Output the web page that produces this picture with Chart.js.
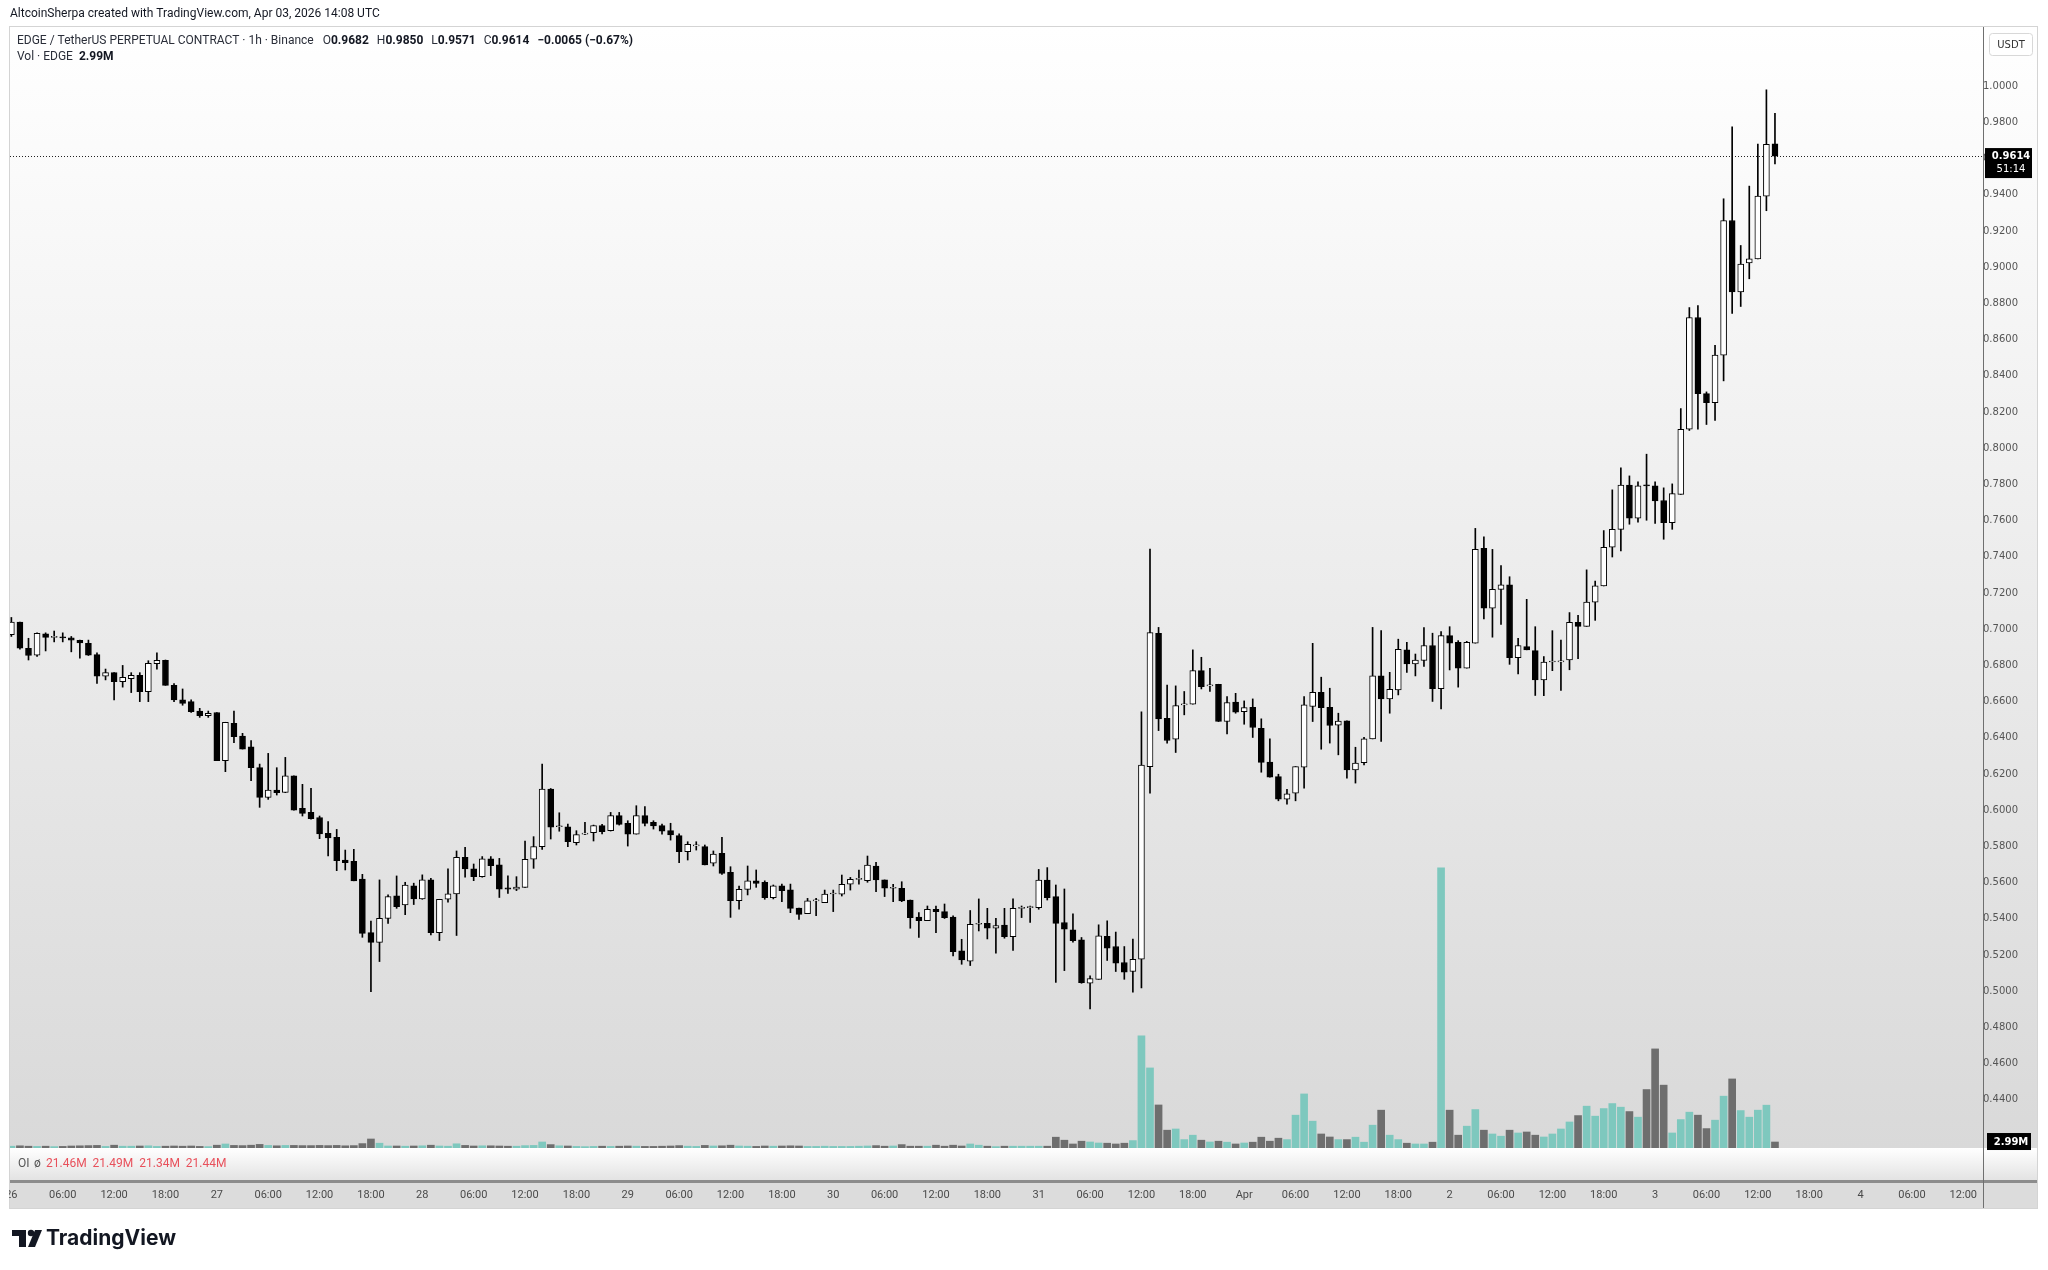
<!DOCTYPE html>
<html>
<head>
<meta charset="utf-8">
<title>EDGE / TetherUS PERPETUAL CONTRACT · 1h</title>
<script src="https://cdn.jsdelivr.net/npm/chart.js@4.4.1/dist/chart.umd.min.js"></script>
<style>
  html, body { margin: 0; padding: 0; background: #fff; }
  #wrap { width: 2048px; height: 1270px; }
</style>
</head>
<body>
<div id="wrap"><canvas id="chart" width="2048" height="1270"></canvas></div>
<script>
/* global Chart */

// hourly candles, index 0 = Mar 26 00:00 UTC, last = Apr 3 14:00
const opens = [
  0.697, 0.704, 0.6895, 0.6857, 0.6975, 0.6955, 0.6957, 0.6952, 0.6938, 0.6922,
  0.686, 0.6741, 0.676, 0.671, 0.6727, 0.6745, 0.6655, 0.681, 0.6828, 0.669,
  0.661, 0.660, 0.6548, 0.6522, 0.654, 0.6274, 0.648, 0.641, 0.635, 0.6235,
  0.6071, 0.6112, 0.6099, 0.619, 0.601, 0.5988, 0.596, 0.5873, 0.585, 0.5725,
  0.5718, 0.562, 0.5324, 0.527, 0.5403, 0.5527, 0.5477, 0.5582, 0.551, 0.5615,
  0.5324, 0.5508, 0.5538, 0.574, 0.5676, 0.5633, 0.5731, 0.5698, 0.5571, 0.5564,
  0.5574, 0.5729, 0.5799, 0.6117, 0.5909, 0.5909, 0.5821, 0.5868, 0.5876, 0.5915,
  0.5887, 0.597, 0.5927, 0.5868, 0.597, 0.5933, 0.5915, 0.5887, 0.586, 0.5771,
  0.5803, 0.5799, 0.5707, 0.5762, 0.5657, 0.55, 0.5563, 0.561, 0.5602, 0.5517,
  0.5582, 0.556, 0.546, 0.5429, 0.5499, 0.549, 0.5537, 0.5536, 0.5591, 0.5618,
  0.5611, 0.5692, 0.5615, 0.5569, 0.5569, 0.5504, 0.541, 0.539, 0.5453, 0.544,
  0.541, 0.5223, 0.5166, 0.537, 0.5375, 0.5348, 0.5366, 0.5302, 0.5458, 0.5462,
  0.5462, 0.5614, 0.5523, 0.538, 0.5339, 0.5284, 0.5044, 0.5066, 0.5303, 0.5247,
  0.5159, 0.5109, 0.5177, 0.6241, 0.6977, 0.6508, 0.6392, 0.6582, 0.6586, 0.6771,
  0.6687, 0.6696, 0.649, 0.6597, 0.6545, 0.6569, 0.6453, 0.6266, 0.6186, 0.6061,
  0.6094, 0.6238, 0.6573, 0.6652, 0.6569, 0.647, 0.6494, 0.6223, 0.6263, 0.6394,
  0.6742, 0.6615, 0.6665, 0.6886, 0.6808, 0.6827, 0.691, 0.6671, 0.6965, 0.6928,
  0.6785, 0.6923, 0.7447, 0.7116, 0.722, 0.7245, 0.6843, 0.6904, 0.6882, 0.672,
  0.6819, 0.6819, 0.683, 0.7038, 0.7016, 0.715, 0.7239, 0.7453, 0.7552, 0.7797,
  0.7613, 0.7794, 0.7792, 0.7711, 0.7589, 0.7745, 0.8105, 0.8722, 0.8302, 0.8252,
  0.8514, 0.9258, 0.8864, 0.9023, 0.9046, 0.9393, 0.9682,
];

const highs = [
  0.7065, 0.704, 0.695, 0.698, 0.698, 0.699, 0.698, 0.696, 0.694, 0.694,
  0.687, 0.678, 0.676, 0.680, 0.676, 0.676, 0.6826, 0.687, 0.683, 0.670,
  0.667, 0.661, 0.6563, 0.6548, 0.654, 0.6486, 0.6548, 0.6425, 0.6385, 0.6255,
  0.6314, 0.6235, 0.6292, 0.619, 0.6143, 0.6121, 0.5968, 0.5937, 0.5894, 0.578,
  0.5784, 0.5646, 0.5388, 0.5615, 0.5532, 0.5637, 0.5602, 0.5597, 0.5643, 0.5624,
  0.5508, 0.5676, 0.5775, 0.5795, 0.5703, 0.5744, 0.5744, 0.5734, 0.5637, 0.5633,
  0.583, 0.5854, 0.6255, 0.612, 0.5986, 0.5924, 0.5887, 0.5933, 0.5918, 0.5922,
  0.5988, 0.5988, 0.5942, 0.6025, 0.602, 0.5942, 0.5924, 0.5928, 0.5869, 0.5826,
  0.5826, 0.5808, 0.5775, 0.585, 0.5688, 0.5581, 0.5692, 0.567, 0.561, 0.5587,
  0.5592, 0.5592, 0.546, 0.5513, 0.5513, 0.5559, 0.5559, 0.5642, 0.5629, 0.567,
  0.5747, 0.5712, 0.5615, 0.5591, 0.5605, 0.5504, 0.5434, 0.5471, 0.5471, 0.5482,
  0.5416, 0.5287, 0.5446, 0.551, 0.5458, 0.5403, 0.5458, 0.551, 0.5471, 0.5471,
  0.5673, 0.5683, 0.5587, 0.5565, 0.5427, 0.5297, 0.5085, 0.5367, 0.5389, 0.5327,
  0.5247, 0.5288, 0.6543, 0.7443, 0.701, 0.6692, 0.6687, 0.6656, 0.6886, 0.6845,
  0.6784, 0.6696, 0.6628, 0.6646, 0.6604, 0.6615, 0.6505, 0.6394, 0.6199, 0.6116,
  0.6241, 0.6628, 0.6922, 0.6735, 0.6674, 0.6536, 0.6494, 0.6348, 0.6403, 0.701,
  0.6992, 0.6762, 0.6945, 0.6928, 0.6863, 0.7009, 0.6978, 0.6987, 0.7014, 0.6937,
  0.6933, 0.7557, 0.7511, 0.7441, 0.7351, 0.729, 0.695, 0.7165, 0.7014, 0.6849,
  0.6992, 0.694, 0.7092, 0.7077, 0.7328, 0.7266, 0.7545, 0.777, 0.7891, 0.7847,
  0.7814, 0.7967, 0.7814, 0.7781, 0.7803, 0.8219, 0.8777, 0.8788, 0.8311, 0.8569,
  0.9378, 0.9776, 0.912, 0.9448, 0.968, 0.998, 0.985,
];

const lows = [
  0.696, 0.689, 0.683, 0.685, 0.688, 0.693, 0.693, 0.6875, 0.684, 0.6855,
  0.670, 0.672, 0.661, 0.668, 0.665, 0.660, 0.660, 0.678, 0.669, 0.660,
  0.658, 0.654, 0.6513, 0.6513, 0.6274, 0.6213, 0.6373, 0.6338, 0.6163, 0.6016,
  0.606, 0.6084, 0.6097, 0.600, 0.5968, 0.595, 0.5843, 0.5748, 0.5666, 0.567,
  0.561, 0.5298, 0.4998, 0.5164, 0.5375, 0.5458, 0.5423, 0.5479, 0.5508, 0.5311,
  0.528, 0.5492, 0.5308, 0.563, 0.5611, 0.563, 0.5639, 0.5518, 0.5541, 0.5556,
  0.5574, 0.5679, 0.5784, 0.5841, 0.5884, 0.5799, 0.5808, 0.5865, 0.583, 0.5869,
  0.5885, 0.5918, 0.5802, 0.5868, 0.5913, 0.5896, 0.5868, 0.5835, 0.571, 0.5725,
  0.578, 0.5698, 0.5692, 0.5646, 0.5408, 0.5453, 0.5532, 0.5574, 0.5508, 0.551,
  0.5495, 0.5434, 0.5397, 0.5429, 0.5417, 0.549, 0.544, 0.5526, 0.5559, 0.5592,
  0.5602, 0.555, 0.5523, 0.5495, 0.5495, 0.5348, 0.5298, 0.539, 0.5324, 0.5402,
  0.5195, 0.5149, 0.5142, 0.5333, 0.5289, 0.521, 0.5293, 0.5225, 0.5407, 0.538,
  0.5453, 0.5504, 0.5049, 0.5114, 0.5271, 0.5044, 0.4902, 0.5066, 0.517, 0.5109,
  0.5066, 0.4995, 0.5018, 0.6094, 0.644, 0.637, 0.6319, 0.6527, 0.6586, 0.667,
  0.6656, 0.649, 0.6421, 0.6536, 0.6475, 0.6402, 0.621, 0.6183, 0.6052, 0.6034,
  0.6052, 0.6122, 0.649, 0.6337, 0.6371, 0.6306, 0.6177, 0.615, 0.625, 0.6394,
  0.638, 0.6536, 0.6637, 0.6762, 0.6742, 0.6794, 0.6601, 0.656, 0.6775, 0.668,
  0.6785, 0.6923, 0.7057, 0.6956, 0.7027, 0.6806, 0.6753, 0.6886, 0.6634, 0.6633,
  0.6771, 0.6662, 0.6776, 0.6837, 0.7016, 0.7049, 0.7239, 0.7399, 0.7432, 0.758,
  0.7591, 0.7602, 0.7585, 0.7497, 0.7552, 0.7745, 0.8098, 0.8105, 0.8131, 0.8153,
  0.8372, 0.8744, 0.8783, 0.8936, 0.9046, 0.9312, 0.9571,
];

const closes = [
  0.704, 0.6895, 0.6855, 0.6977, 0.6955, 0.6957, 0.6952, 0.694, 0.6925, 0.6857,
  0.674, 0.676, 0.671, 0.6734, 0.6745, 0.6655, 0.6811, 0.6828, 0.669, 0.661,
  0.659, 0.6544, 0.6522, 0.6535, 0.6274, 0.6486, 0.6406, 0.6338, 0.6235, 0.6071,
  0.6112, 0.6097, 0.619, 0.600, 0.5983, 0.5953, 0.5869, 0.5847, 0.5721, 0.571,
  0.561, 0.532, 0.527, 0.5403, 0.5523, 0.5467, 0.5587, 0.551, 0.5615, 0.5324,
  0.5508, 0.5538, 0.574, 0.5676, 0.5633, 0.5731, 0.5694, 0.5564, 0.5564, 0.5576,
  0.5729, 0.5799, 0.6117, 0.5907, 0.591, 0.5826, 0.5865, 0.5869, 0.5915, 0.5881,
  0.597, 0.5922, 0.5868, 0.597, 0.5927, 0.5913, 0.5885, 0.5863, 0.5771, 0.5812,
  0.5804, 0.5698, 0.5758, 0.5651, 0.55, 0.5563, 0.561, 0.5596, 0.5517, 0.5583,
  0.5556, 0.5458, 0.5425, 0.5499, 0.5501, 0.5537, 0.5538, 0.5591, 0.5618, 0.5624,
  0.5697, 0.5615, 0.5569, 0.5569, 0.5499, 0.5407, 0.539, 0.5453, 0.544, 0.5407,
  0.5219, 0.5173, 0.537, 0.5371, 0.5348, 0.5363, 0.5302, 0.5458, 0.5462, 0.5464,
  0.5614, 0.5517, 0.5375, 0.5343, 0.528, 0.5048, 0.507, 0.5306, 0.5238, 0.5155,
  0.5106, 0.5177, 0.625, 0.6981, 0.6504, 0.6385, 0.6578, 0.6584, 0.6771, 0.6683,
  0.6692, 0.649, 0.6595, 0.6542, 0.6567, 0.6457, 0.6264, 0.6183, 0.6061, 0.609,
  0.6241, 0.6582, 0.6652, 0.6567, 0.6468, 0.6492, 0.6223, 0.626, 0.6394, 0.6742,
  0.6615, 0.6668, 0.6889, 0.6808, 0.683, 0.691, 0.6671, 0.6965, 0.6923, 0.6785,
  0.6928, 0.7441, 0.7116, 0.722, 0.7245, 0.6843, 0.691, 0.6886, 0.672, 0.6819,
  0.6821, 0.6826, 0.7038, 0.7016, 0.715, 0.724, 0.7453, 0.7552, 0.7797, 0.7613,
  0.7792, 0.7792, 0.7709, 0.7589, 0.7749, 0.8105, 0.8722, 0.8302, 0.8252, 0.8514,
  0.9258, 0.8864, 0.9017, 0.9046, 0.9393, 0.9679, 0.9614,
];

// volume in millions of EDGE
const volumes = [
  0.9, 1.1, 0.9, 0.8, 0.9, 0.7, 0.8, 1.0, 1.1, 1.2,
  1.3, 0.8, 1.4, 0.9, 0.9, 1.0, 1.1, 0.8, 0.9, 1.0,
  0.9, 1.0, 0.8, 0.7, 1.4, 2.0, 1.3, 1.2, 1.4, 1.8,
  1.3, 1.1, 1.3, 1.3, 1.2, 1.2, 1.3, 1.2, 1.3, 1.1,
  1.2, 2.2, 4.5, 2.4, 1.0, 1.0, 0.9, 1.0, 1.1, 1.4,
  1.0, 0.9, 2.1, 1.3, 1.0, 1.1, 1.1, 1.0, 0.9, 0.9,
  1.2, 1.3, 3.0, 1.7, 1.1, 1.0, 0.8, 0.7, 0.8, 0.9,
  0.8, 0.9, 1.0, 0.9, 0.8, 0.8, 0.9, 1.0, 1.2, 0.9,
  0.8, 1.3, 1.0, 1.1, 1.4, 1.0, 0.9, 0.8, 1.0, 0.9,
  1.0, 1.1, 1.0, 0.8, 0.8, 0.9, 0.8, 0.8, 0.8, 0.9,
  1.0, 1.2, 0.9, 1.0, 1.7, 0.9, 0.9, 0.9, 1.4, 0.9,
  1.4, 1.0, 2.0, 1.4, 0.9, 0.7, 0.9, 0.9, 0.9, 0.9,
  0.9, 0.9, 5.4, 3.9, 2.0, 3.4, 3.0, 2.5, 2.4, 2.0,
  2.4, 3.7, 56, 40, 21.5, 8.9, 9.5, 4.2, 6.4, 3.9,
  3.0, 3.4, 2.9, 2.0, 2.5, 2.9, 5.4, 3.4, 4.9, 4.2,
  16.4, 27, 13.4, 7.0, 5.5, 4.2, 4.2, 5.4, 2.9, 11.4,
  18.9, 6.4, 4.2, 2.4, 2.0, 2.0, 2.9, 140, 18.9, 6.4,
  10.9, 19.2, 8.9, 7.0, 5.9, 8.9, 7.5, 8.0, 6.4, 5.5,
  7.0, 9.5, 13, 16.2, 20.9, 15.9, 19.7, 22.2, 20.4, 18.2,
  15.4, 29.2, 49.5, 31.4, 7.5, 14.2, 17.9, 16.4, 9.7, 13.9,
  25.9, 34.5, 18.7, 15.4, 18.9, 21.4, 2.99,
];

// time axis, one label every 6 hours from Mar 26 00:00
const tickLabels = [
  "26", "06:00", "12:00", "18:00", "27", "06:00", "12:00", "18:00",
  "28", "06:00", "12:00", "18:00", "29", "06:00", "12:00", "18:00",
  "30", "06:00", "12:00", "18:00", "31", "06:00", "12:00", "18:00",
  "Apr", "06:00", "12:00", "18:00", "2", "06:00", "12:00", "18:00",
  "3", "06:00", "12:00", "18:00", "4", "06:00", "12:00",
];
const priceTicks = [
  0.44, 0.46, 0.48, 0.50, 0.52, 0.54, 0.56, 0.58, 0.60, 0.62, 0.64, 0.66, 0.68, 0.70,
  0.72, 0.74, 0.76, 0.78, 0.80, 0.82, 0.84, 0.86, 0.88, 0.90, 0.92, 0.94, 0.96, 0.98, 1.00,
];
const oiValues = ["21.46M", "21.49M", "21.34M", "21.44M"];

const UP_VOL = "#7ec8be";
const DOWN_VOL = "#6e6e6e";
const AXIS_RIGHT = 2037; // outer edge of the price scale
const TIME_TOP = 1183;
const TIME_BOTTOM = 1208;

const idx = closes.map((_, i) => i);
const isUp = (i) => closes[i] >= opens[i];
const last = closes.length - 1;

function txt(ctx, s, x, y, font, color, align) {
  ctx.font = font;
  ctx.fillStyle = color;
  ctx.textAlign = align || "left";
  ctx.textBaseline = "middle";
  ctx.fillText(s, x, y);
  return ctx.measureText(s).width;
}

const panes = {
  id: "panes",
  beforeDraw(chart) {
    const { ctx, chartArea: a } = chart;
    ctx.save();
    ctx.fillStyle = "#fff";
    ctx.fillRect(0, 0, chart.width, chart.height);

    let g = ctx.createLinearGradient(0, a.top, 0, a.bottom);
    g.addColorStop(0, "#ffffff");
    g.addColorStop(1, "#d9d9d9");
    ctx.fillStyle = g;
    ctx.fillRect(a.left, a.top, AXIS_RIGHT - a.left, a.bottom - a.top);

    // OI strip
    g = ctx.createLinearGradient(0, a.bottom, 0, TIME_TOP - 3);
    g.addColorStop(0, "#ffffff");
    g.addColorStop(1, "#e3e3e3");
    ctx.fillStyle = g;
    ctx.fillRect(a.left, a.bottom, AXIS_RIGHT - a.left, TIME_TOP - 3 - a.bottom);

    ctx.fillStyle = "#8c8c8c";
    ctx.fillRect(a.left, TIME_TOP - 3, AXIS_RIGHT - a.left, 3);
    ctx.fillStyle = "#dcdcdc";
    ctx.fillRect(a.left, TIME_TOP, AXIS_RIGHT - a.left, TIME_BOTTOM - TIME_TOP);

    ctx.strokeStyle = "#d4d4d4";
    ctx.lineWidth = 1;
    ctx.strokeRect(a.left - 0.5, a.top - 0.5, AXIS_RIGHT - a.left + 1, TIME_BOTTOM - a.top + 1);
    ctx.restore();
  },
  beforeDatasetsDraw(chart) {
    const { ctx, chartArea: a } = chart;
    const y = Math.round(chart.scales.y.getPixelForValue(closes[last])) + 0.5;
    ctx.save();
    ctx.strokeStyle = "#222";
    ctx.lineWidth = 1;
    ctx.setLineDash([1, 2]);
    ctx.beginPath();
    ctx.moveTo(a.left, y);
    ctx.lineTo(a.right, y);
    ctx.stroke();
    ctx.restore();
  },
  afterDraw(chart) {
    const { ctx, chartArea: a } = chart;
    ctx.save();

    // cover the clipped first date label like the original
    ctx.fillStyle = "#fff";
    ctx.fillRect(0, TIME_TOP - 3, a.left - 1, TIME_BOTTOM - TIME_TOP + 6);

    // price scale separator
    ctx.fillStyle = "#6f6f6f";
    ctx.fillRect(a.right, a.top, 1, TIME_BOTTOM - a.top);

    const F = "Roboto, 'Noto Sans', sans-serif";
    const ink = "#131722";
    txt(ctx, "AltcoinSherpa created with TradingView.com, Apr 03, 2026 14:08 UTC", 10, 14, `12px ${F}`, ink);

    // legend
    let x = 17;
    const ly = 41;
    x += txt(ctx, "EDGE / TetherUS PERPETUAL CONTRACT · 1h · Binance", x, ly, `12px ${F}`, "#2a2e39") + 9;
    const ohlc = [["O", opens[last]], ["H", highs[last]], ["L", lows[last]], ["C", closes[last]]];
    for (const [k, v] of ohlc) {
      x += txt(ctx, k, x, ly, `12px ${F}`, "#2a2e39");
      x += txt(ctx, v.toFixed(4), x, ly, `bold 12px ${F}`, ink) + 8;
    }
    const chg = closes[last] - closes[last - 1];
    const pct = (chg / closes[last - 1]) * 100;
    txt(ctx, `\u2212${Math.abs(chg).toFixed(4)} (\u2212${Math.abs(pct).toFixed(2)}%)`, x, ly, `bold 12px ${F}`, ink);
    x = 17;
    x += txt(ctx, "Vol · EDGE", x, 57, `12px ${F}`, "#2a2e39") + 6;
    txt(ctx, volumes[last].toFixed(2) + "M", x, 57, `bold 12px ${F}`, ink);

    // OI row
    const oy = 1164;
    txt(ctx, "OI", 18, oy, `12px ${F}`, "#555");
    txt(ctx, "\u00f8", 34, oy, `12px ${F}`, "#555");
    let ox = 46;
    for (const v of oiValues) {
      ox += txt(ctx, v, ox, oy, `12px ${F}`, "#e8505b") + 6;
    }

    // USDT box
    const cx = (a.right + AXIS_RIGHT) / 2 + 1;
    ctx.fillStyle = "#fff";
    ctx.strokeStyle = "#d8d8d8";
    ctx.beginPath();
    ctx.roundRect(cx - 21.5, 33.5, 43, 22, 3);
    ctx.fill();
    ctx.stroke();
    txt(ctx, "USDT", cx, 45, "10px 'DejaVu Sans', sans-serif", "#333", "center");

    // last price tag
    const py = chart.scales.y.getPixelForValue(closes[last]);
    ctx.fillStyle = "#000";
    ctx.fillRect(a.right + 2, py - 8, 47, 30);
    txt(ctx, closes[last].toFixed(4), cx, py, "bold 10px 'DejaVu Sans', sans-serif", "#fff", "center");
    txt(ctx, "51:14", cx, py + 13, "10px 'DejaVu Sans', sans-serif", "#fff", "center");

    // volume tag
    const vy = chart.scales.y2.getPixelForValue(volumes[last]);
    ctx.fillStyle = "#000";
    ctx.fillRect(a.right + 4, vy - 9, 44, 17);
    txt(ctx, volumes[last].toFixed(2) + "M", cx, vy, "bold 10px 'DejaVu Sans', sans-serif", "#fff", "center");

    // TradingView logo
    ctx.fillStyle = "#131722";
    ctx.fillRect(12, 1230, 14, 6);
    ctx.fillRect(19, 1230, 7, 17);
    ctx.beginPath();
    ctx.arc(31, 1233, 3.2, 0, Math.PI * 2);
    ctx.fill();
    ctx.beginPath();
    ctx.moveTo(35, 1230);
    ctx.lineTo(42, 1230);
    ctx.lineTo(35, 1247);
    ctx.lineTo(28, 1247);
    ctx.closePath();
    ctx.fill();
    txt(ctx, "TradingView", 46, 1239, "bold 21px Inter, Roboto, sans-serif", "#131722");

    ctx.restore();
  },
};

new Chart(document.getElementById("chart"), {
  type: "bar",
  data: {
    datasets: [
      {
        label: "wick",
        data: idx.map((i) => ({ x: i, y: [lows[i], highs[i]] })),
        backgroundColor: "#000",
        barThickness: 1,
        grouped: false,
        yAxisID: "y",
        order: 2,
      },
      {
        label: "body",
        data: idx.map((i) => ({ x: i, y: [opens[i], closes[i]] })),
        backgroundColor: idx.map((i) => (isUp(i) ? "#ffffff" : "#000000")),
        borderColor: "#000",
        borderWidth: 1,
        borderSkipped: false,
        barThickness: 6,
        minBarLength: 1,
        grouped: false,
        yAxisID: "y",
        order: 1,
      },
      {
        label: "volume",
        data: idx.map((i) => ({ x: i, y: volumes[i] })),
        backgroundColor: idx.map((i) => (isUp(i) ? UP_VOL : DOWN_VOL)),
        barThickness: 7,
        grouped: false,
        yAxisID: "y2",
        order: 3,
      },
    ],
  },
  options: {
    responsive: false,
    devicePixelRatio: 1,
    animation: false,
    layout: { padding: { left: 10, top: 27, right: 11, bottom: 62 } },
    plugins: { legend: { display: false }, tooltip: { enabled: false } },
    scales: {
      x: {
        type: "linear",
        min: -0.16,
        max: 230.3,
        offset: false,
        grid: { display: false, drawTicks: false },
        border: { display: false },
        afterBuildTicks: (s) => {
          s.ticks = tickLabels.map((_, k) => ({ value: k * 6 }));
        },
        afterFit: (s) => {
          s.height = 60;
          s.paddingLeft = 0;
          s.paddingRight = 0;
        },
        ticks: {
          autoSkip: false,
          maxRotation: 0,
          padding: 41,
          color: "#4a4a4a",
          font: { family: "Roboto, sans-serif", size: 11 },
          callback: (v, k) => tickLabels[k],
        },
      },
      y: {
        type: "linear",
        position: "right",
        min: 0.4134,
        max: 1.0327,
        grid: { display: false, drawTicks: false },
        border: { display: false },
        afterBuildTicks: (s) => {
          s.ticks = priceTicks.map((v) => ({ value: v }));
        },
        afterFit: (s) => {
          s.width = 54;
          s.paddingTop = 0;
          s.paddingBottom = 0;
        },
        ticks: {
          padding: 0,
          crossAlign: "center",
          color: "#555",
          font: { family: "'DejaVu Sans', sans-serif", size: 10 },
          callback: (v) => Number(v).toFixed(4),
        },
      },
      y2: {
        type: "linear",
        display: false,
        min: 0,
        max: 560,
      },
    },
  },
  plugins: [panes],
});
</script>
</body>
</html>
